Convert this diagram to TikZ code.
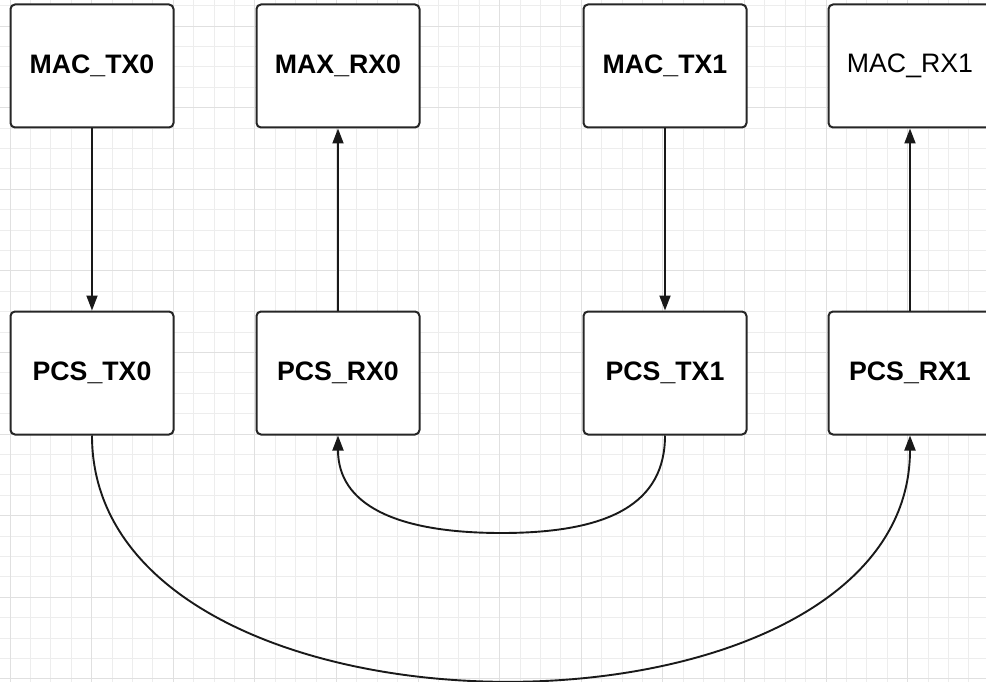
\documentclass[tikz,border=0pt]{standalone}
\usepackage{fontspec}
\setmainfont{Liberation Sans}
\usetikzlibrary{arrows.meta}

\tikzset{
  minorline/.style={draw=black!7,line width=0.9pt},
  majorline/.style={draw=black!12,line width=1pt},
  blockbox/.style={draw=black!85,fill=white,line width=2pt,rounded corners=4.5pt,
    minimum width=163pt,minimum height=123pt,inner sep=0pt,font=\fontsize{26.7}{30}\selectfont\bfseries},
  link/.style={->,line width=1.9pt,draw=black!90},
}

\begin{document}
\begin{tikzpicture}[x=1pt,y=-1pt,>={Triangle[length=15pt,width=11pt]}]
\useasboundingbox (0,0) rectangle (986,682);
\fill[white] (0,0) rectangle (986,682);
\foreach \i in {0,...,47} \draw[minorline] ({10.1+20.4*\i},0) -- ++(0,682);
\foreach \j in {0,...,33} \draw[minorline] (0,{5.7+20.4*\j}) -- ++(986,0);
\foreach \i in {0,...,11} \draw[majorline] ({10.1+81.6*\i},0) -- ++(0,682);
\foreach \j in {0,...,8} \draw[majorline] (0,{26.1+81.6*\j}) -- ++(986,0);

\node[blockbox] (mactx0) at (92,66) {MAC\_TX0};
\node[blockbox] (maxrx0) at (338,66) {MAX\_RX0};
\node[blockbox] (mactx1) at (665,66) {MAC\_TX1};
\node[blockbox,font=\fontsize{26.7}{30}\selectfont] (macrx1) at (910,66) {MAC\_RX1};
\node[blockbox] (pcstx0) at (92,373) {PCS\_TX0};
\node[blockbox] (pcsrx0) at (338,373) {PCS\_RX0};
\node[blockbox] (pcstx1) at (665,373) {PCS\_TX1};
\node[blockbox] (pcsrx1) at (910,373) {PCS\_RX1};

\draw[link] (mactx0) -- (pcstx0);
\draw[link] (pcsrx0) -- (maxrx0);
\draw[link] (mactx1) -- (pcstx1);
\draw[link] (pcsrx1) -- (macrx1);

\coordinate (innerlow) at (501.5,533);
\draw[link] (pcstx1.south) .. controls +(0,68) and +(108,0) .. (innerlow)
  .. controls +(-108,0) and +(0,68) .. (pcsrx0.south);
\draw[link] (pcstx0.south) .. controls +(0,326) and +(0,326) .. (pcsrx1.south);
\end{tikzpicture}
\end{document}
